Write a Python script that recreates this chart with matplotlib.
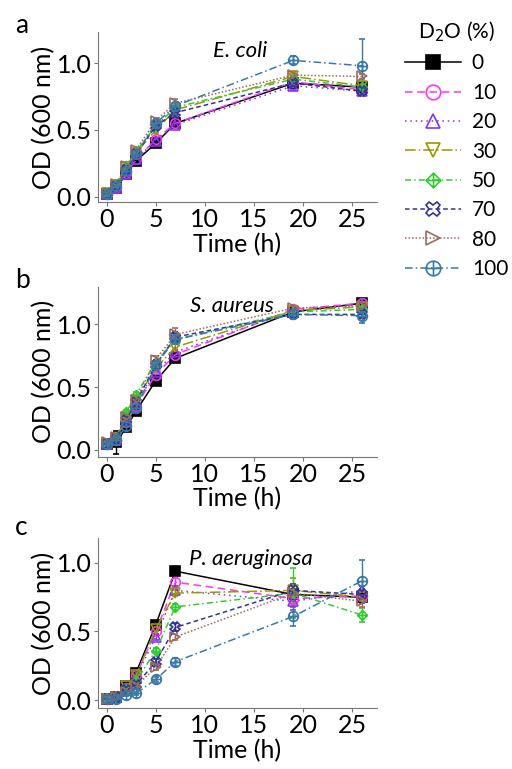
import matplotlib
matplotlib.use("Agg")
import matplotlib.pyplot as plt
from matplotlib.path import Path

plt.rcParams['font.family'] = ['Lato', 'DejaVu Sans']

# Data
time_h = [0, 1, 2, 3, 5, 7, 19, 26]
d2o_levels = ['0', '10', '20', '30', '50', '70', '80', '100']

ecoli_od = [
    [0.02, 0.07, 0.17, 0.27, 0.40, 0.55, 0.85, 0.82],
    [0.02, 0.07, 0.18, 0.28, 0.43, 0.55, 0.86, 0.80],
    [0.02, 0.07, 0.17, 0.28, 0.42, 0.54, 0.83, 0.79],
    [0.03, 0.09, 0.22, 0.33, 0.50, 0.65, 0.90, 0.83],
    [0.03, 0.10, 0.23, 0.34, 0.53, 0.67, 0.88, 0.82],
    [0.02, 0.08, 0.20, 0.32, 0.53, 0.63, 0.85, 0.79],
    [0.03, 0.10, 0.23, 0.35, 0.57, 0.70, 0.91, 0.90],
    [0.02, 0.08, 0.19, 0.32, 0.55, 0.68, 1.02, 0.98],
]
ecoli_err = [
    [0.01, 0.01, 0.01, 0.01, 0.02, 0.02, 0.02, 0.02],
    [0.01, 0.01, 0.01, 0.01, 0.02, 0.02, 0.02, 0.02],
    [0.01, 0.01, 0.01, 0.01, 0.02, 0.02, 0.03, 0.02],
    [0.01, 0.01, 0.01, 0.01, 0.02, 0.02, 0.02, 0.02],
    [0.01, 0.01, 0.01, 0.01, 0.02, 0.02, 0.02, 0.02],
    [0.01, 0.01, 0.01, 0.01, 0.02, 0.02, 0.03, 0.03],
    [0.01, 0.01, 0.01, 0.01, 0.02, 0.03, 0.02, 0.02],
    [0.01, 0.01, 0.01, 0.02, 0.02, 0.02, 0.03, 0.20],
]

saureus_od = [
    [0.05, 0.06, 0.18, 0.31, 0.55, 0.73, 1.10, 1.17],
    [0.05, 0.08, 0.22, 0.35, 0.60, 0.76, 1.12, 1.17],
    [0.05, 0.08, 0.23, 0.37, 0.62, 0.78, 1.11, 1.16],
    [0.05, 0.09, 0.26, 0.40, 0.65, 0.82, 1.11, 1.14],
    [0.05, 0.10, 0.30, 0.44, 0.70, 0.88, 1.10, 1.12],
    [0.05, 0.09, 0.24, 0.38, 0.68, 0.90, 1.08, 1.08],
    [0.06, 0.10, 0.26, 0.40, 0.72, 0.92, 1.13, 1.15],
    [0.05, 0.08, 0.19, 0.33, 0.68, 0.88, 1.08, 1.07],
]
saureus_err = [
    [0.02, 0.09, 0.02, 0.02, 0.02, 0.02, 0.02, 0.02],
    [0.02, 0.02, 0.02, 0.02, 0.02, 0.02, 0.02, 0.02],
    [0.02, 0.02, 0.02, 0.02, 0.02, 0.02, 0.02, 0.02],
    [0.02, 0.02, 0.02, 0.02, 0.02, 0.03, 0.02, 0.02],
    [0.02, 0.02, 0.02, 0.02, 0.02, 0.03, 0.02, 0.03],
    [0.02, 0.02, 0.02, 0.02, 0.03, 0.04, 0.02, 0.03],
    [0.02, 0.02, 0.02, 0.02, 0.03, 0.05, 0.02, 0.02],
    [0.02, 0.02, 0.02, 0.02, 0.03, 0.04, 0.03, 0.06],
]

paeru_od = [
    [0.01, 0.02, 0.10, 0.20, 0.55, 0.94, 0.77, 0.75],
    [0.01, 0.02, 0.09, 0.18, 0.50, 0.86, 0.74, 0.76],
    [0.01, 0.02, 0.09, 0.17, 0.46, 0.80, 0.72, 0.80],
    [0.01, 0.02, 0.10, 0.18, 0.52, 0.78, 0.80, 0.75],
    [0.01, 0.02, 0.08, 0.14, 0.36, 0.68, 0.78, 0.62],
    [0.01, 0.02, 0.07, 0.11, 0.28, 0.53, 0.80, 0.77],
    [0.01, 0.02, 0.06, 0.10, 0.24, 0.46, 0.78, 0.72],
    [0.01, 0.01, 0.04, 0.05, 0.15, 0.28, 0.61, 0.87],
]
paeru_err = [
    [0.01, 0.01, 0.01, 0.01, 0.02, 0.02, 0.02, 0.02],
    [0.01, 0.01, 0.01, 0.01, 0.02, 0.03, 0.04, 0.02],
    [0.01, 0.01, 0.01, 0.01, 0.02, 0.03, 0.06, 0.03],
    [0.01, 0.01, 0.01, 0.01, 0.02, 0.02, 0.09, 0.03],
    [0.01, 0.01, 0.01, 0.01, 0.02, 0.02, 0.18, 0.05],
    [0.01, 0.01, 0.01, 0.01, 0.02, 0.03, 0.05, 0.06],
    [0.01, 0.01, 0.01, 0.01, 0.02, 0.02, 0.06, 0.04],
    [0.01, 0.01, 0.01, 0.01, 0.02, 0.03, 0.07, 0.15],
]

# custom markers: diamond with a cross, circle with a cross
diamond_plus = Path([(0, 1), (1, 0), (0, -1), (-1, 0), (0, 1),
                     (0, 1), (0, -1), (-1, 0), (1, 0)],
                    [Path.MOVETO, Path.LINETO, Path.LINETO, Path.LINETO, Path.CLOSEPOLY,
                     Path.MOVETO, Path.LINETO, Path.MOVETO, Path.LINETO])
cross = Path([(0, 1), (0, -1), (-1, 0), (1, 0)],
             [Path.MOVETO, Path.LINETO, Path.MOVETO, Path.LINETO])
circle_plus = Path.make_compound_path(Path.unit_circle(), cross)

colors = ['black', '#ff33ff', '#8833ee', '#999900', '#33cc33', '#333399', '#a06a60', '#3a78a8']
markers = ['s', 'o', '^', 'v', diamond_plus, 'X', '>', circle_plus]
styles = ['-', (0, (5, 3)), (0, (1, 2.5)), (0, (7, 2, 1, 2)), (0, (4, 2, 1, 2)),
          (0, (3, 2)), (0, (1, 1.3)), (0, (5, 2, 1, 2))]

fig = plt.figure(figsize=(5.12, 7.69), dpi=100)

panels = [
    ('a', 'E. coli', ecoli_od, ecoli_err, [0.191, 0.737, 0.545, 0.221], 1.23, -0.04, 0.51, 0.89, 0.957),
    ('b', 'S. aureus', saureus_od, saureus_err, [0.191, 0.406, 0.545, 0.221], 1.30, -0.056, 0.48, 0.89, 0.6255),
    ('c', 'P. aeruginosa', paeru_od, paeru_err, [0.191, 0.079, 0.545, 0.221], 1.18, -0.06, 0.55, 0.88, 0.304),
]

handles = []
for letter, species, od, err, pos, ytop, ybot, tx, ty, ly in panels:
    ax = fig.add_axes(pos)
    for i in range(len(d2o_levels)):
        filled = i == 0
        eb = ax.errorbar(time_h, od[i], yerr=err[i], color=colors[i], linestyle=styles[i],
                         linewidth=1.1, marker=markers[i], markersize=7,
                         markerfacecolor=colors[i] if filled else 'none',
                         markeredgecolor=colors[i], markeredgewidth=1.2,
                         elinewidth=1.0, capsize=2.5, label=d2o_levels[i])
        if letter == 'a':
            handles.append(eb[0])
    ax.set_xlim(-0.9, 27.5)
    ax.set_ylim(ybot, ytop)
    ax.set_xticks([0, 5, 10, 15, 20, 25])
    ax.set_yticks([0.0, 0.5, 1.0])
    ax.set_yticklabels(['0.0', '0.5', '1.0'])
    for side in ['top', 'right']:
        ax.spines[side].set_visible(False)
    for side in ['left', 'bottom']:
        ax.spines[side].set_color('#777777')
    ax.tick_params(colors='#777777', labelcolor='black', labelsize=18, length=3, width=0.8, pad=1.5)
    ax.set_xlabel('Time (h)', fontsize=18, labelpad=1)
    ax.set_ylabel('OD (600 nm)', fontsize=18, labelpad=1)
    ax.text(tx, ty, species, transform=ax.transAxes, fontsize=16, style='italic',
            ha='center', va='center')
    fig.text(0.03, ly, letter, fontsize=19, ha='left', va='baseline')

fig.legend(handles, d2o_levels, title='D$_2$O (%)', loc='upper left',
           bbox_to_anchor=(0.775, 0.985), frameon=False, fontsize=15, title_fontsize=15,
           markerscale=1.5, handlelength=2.7, labelspacing=0.45, handletextpad=0.5,
           borderaxespad=0)

fig.savefig('out.png', dpi=100)
